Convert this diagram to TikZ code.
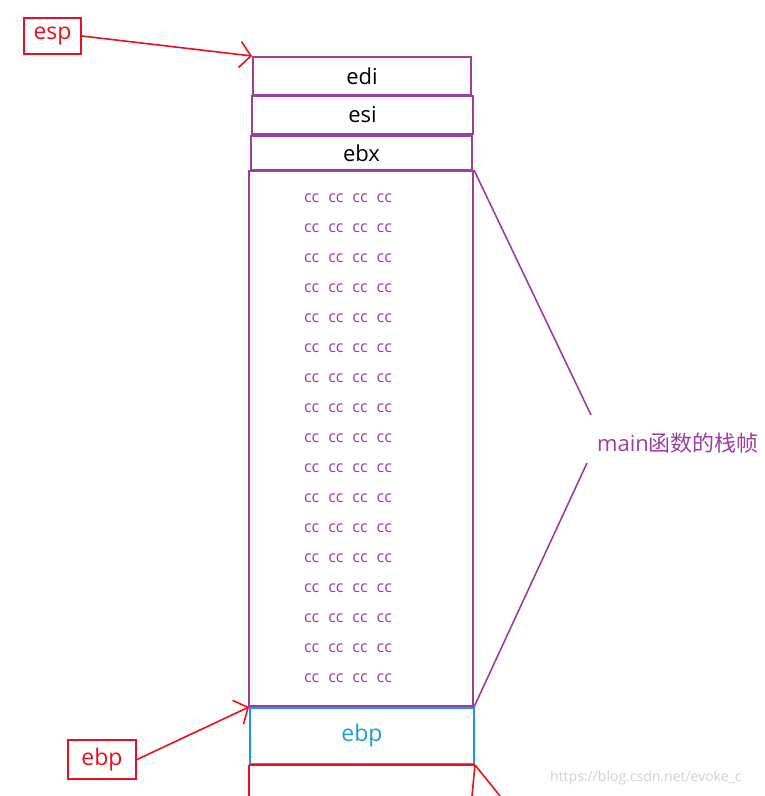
\documentclass[tikz,border=0pt]{standalone}
\usepackage{fontspec}
\setmainfont{Open Sans}
\newfontfamily\cjk{Noto Sans CJK SC}
\usetikzlibrary{arrows.meta,positioning}
\definecolor{framepurple}{HTML}{9B3FA0}
\definecolor{markred}{HTML}{E8101E}
\definecolor{ebpblue}{HTML}{1E9BE0}
\tikzset{
	reg/.style={draw=framepurple, line width=2pt, minimum width=218pt, inner sep=0pt, font=\fontsize{22}{22}\selectfont},
	tag/.style={draw=markred, line width=2pt, text=markred, inner sep=0pt, font=\fontsize{23}{23}\selectfont},
	ptr/.style={markred, line width=1.6pt, -{Straight Barb[length=11pt,width=26pt]}},
	ccrow/.style={text=framepurple, font=\fontsize{16}{16}\selectfont},
}
\begin{document}
\begin{tikzpicture}[x=1pt, y=-1pt]
	\useasboundingbox (0,0) rectangle (764,796);
	%saved registers
	\node[reg, minimum height=38pt] (edi) at (362,76){edi\hspace{50pt}};
	\node[reg, minimum height=38pt, minimum width=221pt] (esi) at (362.5,115){esi\hspace{52pt}};
	\node[reg, minimum height=34pt, minimum width=221pt] (ebx) at (361.5,153){ebx\hspace{42pt}};
	%locals filled with cc
	\node[reg, minimum height=535pt, minimum width=224pt] (frame) at (361,438.5){};
	\foreach \y in {198,228,...,678}{
		\node[ccrow] at (348,\y){cc\hspace{9pt}cc\hspace{9pt}cc\hspace{9pt}cc};
	}
	%saved ebp
	\node[draw=ebpblue, line width=2pt, minimum width=224pt, minimum height=56pt, text=ebpblue,
		font=\fontsize{23}{23}\selectfont] (saved) at (362,736){ebp\hspace{32pt}};
	\draw[markred, line width=2pt] (saved.south west) -- (saved.south east);
	\coordinate (lowl) at (249,796);
	\coordinate (lowr) at (472,796);
	\coordinate (lowd) at (500,796);
	\draw[markred, line width=1.6pt] (saved.south west) -- (lowl);
	\draw[markred, line width=1.6pt] (saved.south east) -- (lowr);
	\draw[markred, line width=1.6pt] (saved.south east) -- (lowd);
	%frame label
	\node[anchor=west, text=framepurple, inner sep=0pt, font=\fontsize{22}{22}\selectfont] (mainlbl) at (597,443){main{\cjk 函数的栈帧}};
	\coordinate (brtop) at (591,415);
	\coordinate (brbot) at (587,463);
	\draw[framepurple, line width=1.6pt] (frame.north east) -- (brtop);
	\draw[framepurple, line width=1.6pt] (brbot) -- (frame.south east);
	%pointers
	\node[tag, minimum width=57pt, minimum height=36pt] (esp) at (52.5,36){esp};
	\node[tag, minimum width=68pt, minimum height=39pt] (ebp) at (102,759.5){ebp};
	\draw[ptr] (esp.east) -- (edi.north west);
	\draw[ptr] (ebp.east) -- (saved.north west);
	\node[anchor=west, text=black!18, inner sep=0pt, font=\fontsize{14}{14}\selectfont] (mark) at (550,778){https://blog.csdn.net/evoke\_c};
\end{tikzpicture}
\end{document}
